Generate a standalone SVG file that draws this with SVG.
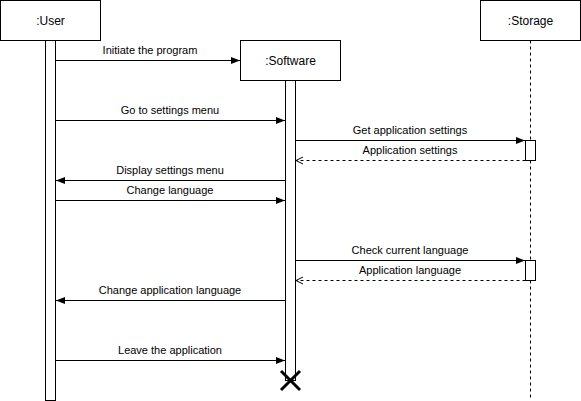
<svg xmlns="http://www.w3.org/2000/svg" width="581" height="401" viewBox="0 0 581 401">
<style>
.box{fill:#fff;stroke:#000;stroke-width:1}
.act{fill:#fff;stroke:#000;stroke-width:1}
.life{stroke:#000;stroke-width:1;stroke-dasharray:3 3;fill:none}
.msg{stroke:#000;stroke-width:1;fill:none}
.ret{stroke:#000;stroke-width:1;fill:none;stroke-dasharray:3 3}
.t{font-family:"Liberation Sans",Arial,Helvetica,sans-serif;font-size:12px;fill:#000;text-anchor:middle;dominant-baseline:central}
.l{font-family:"Liberation Sans",Arial,Helvetica,sans-serif;font-size:11px;fill:#000;text-anchor:middle}
</style>
<defs>
<marker id="fill" markerWidth="10" markerHeight="8" refX="9" refY="4" orient="auto" markerUnits="userSpaceOnUse">
<path d="M0,0.5 L9,4 L0,7.5 Z" fill="#000"/>
</marker>
<marker id="open" markerWidth="10" markerHeight="10" refX="8" refY="4" orient="auto" markerUnits="userSpaceOnUse">
<path d="M1,0.5 L8,4 L1,7.5" fill="none" stroke="#000" stroke-width="1"/>
</marker>
</defs>
<rect width="581" height="401" fill="#fff"/>
<g id="user">
<rect class="box" x="0.5" y="0.5" width="100" height="40"/>
<text class="t" x="50.5" y="20.5">:User</text>
<rect class="act" x="45.5" y="40.5" width="10" height="360"/>
</g>
<g id="storage">
<rect class="box" x="480.5" y="0.5" width="100" height="40"/>
<text class="t" x="530.5" y="20.5">:Storage</text>
<line class="life" x1="530.5" y1="40.5" x2="530.5" y2="400"/>
<rect class="act" x="525.5" y="140.5" width="10" height="20"/>
<rect class="act" x="525.5" y="260.5" width="10" height="20"/>
</g>
<g id="software">
<rect class="box" x="240.5" y="40.5" width="100" height="40"/>
<text class="t" x="290.5" y="60.5">:Software</text>
<rect class="act" x="285.5" y="80.5" width="10" height="300"/>
<path d="M281,371 L300,390 M300,371 L281,390" stroke="#000" stroke-width="3" fill="none"/>
</g>
<g id="connectors">
<line class="msg" x1="55.5" y1="60.5" x2="240" y2="60.5" marker-end="url(#fill)"/>
<text class="l" x="150" y="54">Initiate the program</text>
<line class="msg" x1="55.5" y1="120.5" x2="285" y2="120.5" marker-end="url(#fill)"/>
<text class="l" x="170" y="114">Go to settings menu</text>
<line class="msg" x1="295.5" y1="140.5" x2="525" y2="140.5" marker-end="url(#fill)"/>
<text class="l" x="410" y="134">Get application settings</text>
<line class="ret" x1="525.5" y1="160.5" x2="296" y2="160.5" marker-end="url(#open)"/>
<text class="l" x="410" y="154">Application settings</text>
<line class="msg" x1="285.5" y1="180.5" x2="56" y2="180.5" marker-end="url(#fill)"/>
<text class="l" x="170" y="174">Display settings menu</text>
<line class="msg" x1="55.5" y1="200.5" x2="285" y2="200.5" marker-end="url(#fill)"/>
<text class="l" x="170" y="194">Change language</text>
<line class="msg" x1="295.5" y1="260.5" x2="525" y2="260.5" marker-end="url(#fill)"/>
<text class="l" x="410" y="254">Check current language</text>
<line class="ret" x1="525.5" y1="280.5" x2="296" y2="280.5" marker-end="url(#open)"/>
<text class="l" x="410" y="274">Application language</text>
<line class="msg" x1="285.5" y1="300.5" x2="56" y2="300.5" marker-end="url(#fill)"/>
<text class="l" x="170" y="294">Change application language</text>
<line class="msg" x1="55.5" y1="360.5" x2="285" y2="360.5" marker-end="url(#fill)"/>
<text class="l" x="170" y="354">Leave the application</text>
</g>
</svg>
